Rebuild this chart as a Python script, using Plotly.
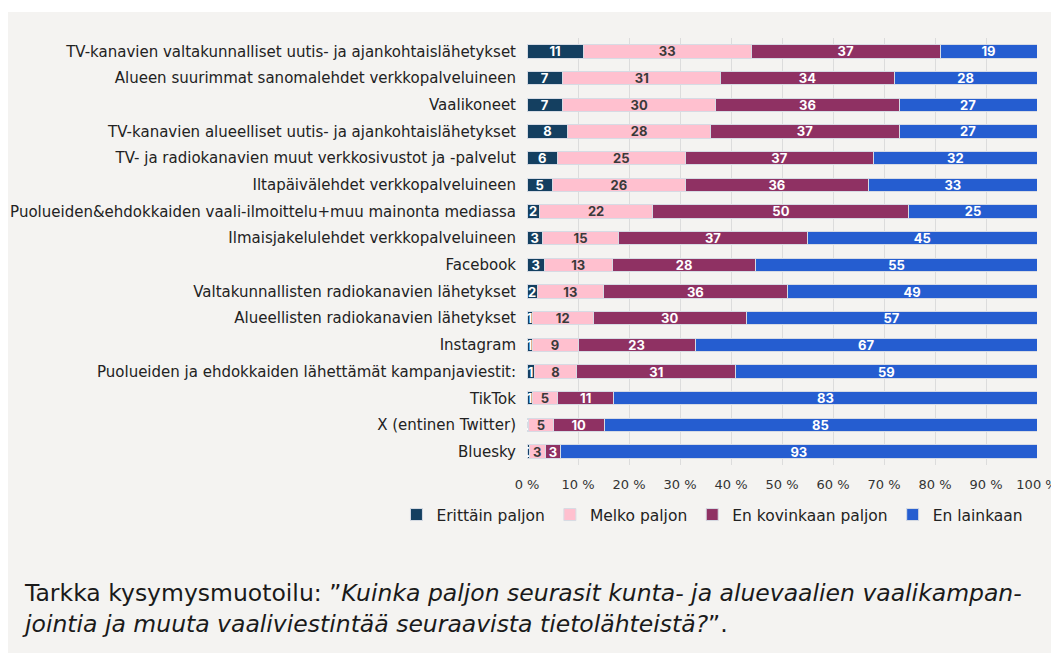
import plotly.graph_objects as go

# Data
categories = [
    "TV-kanavien valtakunnalliset uutis- ja ajankohtaislähetykset",
    "Alueen suurimmat sanomalehdet verkkopalveluineen",
    "Vaalikoneet",
    "TV-kanavien alueelliset uutis- ja ajankohtaislähetykset",
    "TV- ja radiokanavien muut verkkosivustot ja -palvelut",
    "Iltapäivälehdet verkkopalveluineen",
    "Puolueiden&ehdokkaiden vaali-ilmoittelu+muu mainonta mediassa",
    "Ilmaisjakelulehdet verkkopalveluineen",
    "Facebook",
    "Valtakunnallisten radiokanavien lähetykset",
    "Alueellisten radiokanavien lähetykset",
    "Instagram",
    "Puolueiden ja ehdokkaiden lähettämät kampanjaviestit:",
    "TikTok",
    "X (entinen Twitter)",
    "Bluesky",
]

erittain = [11, 7, 7, 8, 6, 5, 2.4, 3, 3.4, 2, 1, 1, 1.4, 1, 0.3, 0.4]
melko = [33, 31, 30, 28, 25, 26, 22.3, 15, 13.3, 13, 12, 9, 8.4, 5, 4.9, 3.2]
ei_kovin = [37, 34, 36, 37, 37, 36, 50.2, 37, 28.2, 36, 30, 23, 31.1, 11, 9.9, 3.0]
ei_lainkaan = [19, 28, 27, 27, 32, 33, 25.1, 45, 55.1, 49, 57, 67, 59.1, 83, 84.9, 93.4]

series_names = ["Erittäin paljon", "Melko paljon", "En kovinkaan paljon", "En lainkaan"]
tick_vals = [0, 10, 20, 30, 40, 50, 60, 70, 80, 90, 100]

colors = ["#143f60", "#ffc0cf", "#8f3163", "#255dd0"]
text_colors = ["white", "#3a3a3a", "white", "white"]
bg = "#f4f3f1"
label_font = "DejaVu Sans"

fig = go.Figure()

for name, vals, col, tcol in zip(series_names, [erittain, melko, ei_kovin, ei_lainkaan], colors, text_colors):
    fig.add_bar(
        name=name,
        x=vals,
        y=categories,
        orientation="h",
        marker_color=col,
        marker_line=dict(color="#d6dbe4", width=1),
        texttemplate="%{x:.0f}",
        textposition="inside",
        textangle=0,
        insidetextanchor="middle",
        constraintext="none",
        textfont=dict(color=tcol, size=13, family="Inter", weight="bold"),
        hoverinfo="skip",
    )

caption = (
    "Tarkka kysymysmuotoilu: ”<i>Kuinka paljon seurasit kunta- ja aluevaalien vaalikampan-</i>"
    "<br><i>jointia ja muuta vaaliviestintää seuraavista tietolähteistä?</i>”."
)

# the page body has an 8px margin, so the figure is 8px smaller than the window
fig.update_layout(
    barmode="stack",
    bargap=0.5,
    width=1051,
    height=645,
    paper_bgcolor=bg,
    plot_bgcolor=bg,
    font=dict(family=label_font, color="#222222", size=15),
    margin=dict(l=519, r=22, t=30, b=188),
    uniformtext=dict(minsize=13, mode="show"),
    showlegend=True,
    legend=dict(
        orientation="h",
        x=-0.256,
        xanchor="left",
        y=-0.117,
        yanchor="middle",
        font=dict(size=15.5, color="#222222"),
        traceorder="normal",
        itemwidth=30,
    ),
    annotations=[
        dict(
            text=caption,
            xref="paper",
            yref="paper",
            x=-0.994,
            y=-0.336,
            xanchor="left",
            yanchor="middle",
            align="left",
            showarrow=False,
            font=dict(family=label_font, size=23.5, color="#1a1a1a"),
        )
    ],
    shapes=[
        dict(
            type="rect",
            xref="paper",
            yref="paper",
            x0=-1.1,
            x1=1.1,
            y0=1 + 26 / 427,
            y1=1.2,
            fillcolor="white",
            line_width=0,
            layer="below",
        )
    ],
)

fig.update_xaxes(
    range=[0, 100],
    tickmode="array",
    tickvals=tick_vals,
    ticktext=["{} %".format(v) for v in tick_vals],
    showgrid=True,
    gridcolor="#dcdcdc",
    gridwidth=1,
    zeroline=False,
    tickfont=dict(size=13, color="#333333"),
    ticks="",
    ticklabelstandoff=10,
    automargin=False,
    fixedrange=True,
)
fig.update_yaxes(
    autorange="reversed",
    ticks="",
    ticklabelstandoff=10,
    tickfont=dict(size=15, color="#222222"),
    showline=False,
    automargin=False,
    fixedrange=True,
)

fig.write_html("out.html")
